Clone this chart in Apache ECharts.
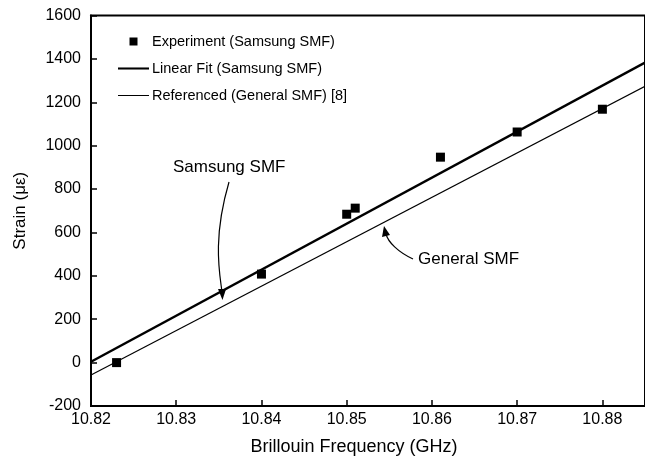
<!DOCTYPE html>
<html>
<head>
<meta charset="utf-8">
<script src="https://cdn.jsdelivr.net/npm/echarts@6/dist/echarts.min.js"></script>
<style>
  html, body { margin: 0; padding: 0; background: #fff; }
  #chart { width: 645px; height: 464px; }
</style>
</head>
<body>
<div id="chart"></div>
<script>
  // measured points (Samsung SMF)
  const expFreq = [10.823, 10.84, 10.85, 10.851, 10.861, 10.87, 10.88]
  const expStrain = [0, 408, 684, 712, 947, 1063, 1168]
  // fitted line end points
  const fitFreq = [10.82, 10.885]
  const fitStrain = [4, 1383]
  // referenced general SMF line end points
  const refFreq = [10.82, 10.885]
  const refStrain = [-57, 1274]
  const yTicks = [-200, 0, 200, 400, 600, 800, 1000, 1200, 1400, 1600]

  const font = 'Arial, "Liberation Sans", Helvetica, sans-serif'
  const zip = (a, b) => a.map((v, i) => [v, b[i]])

  const chart = echarts.init(document.getElementById('chart'))
  const option = {
    backgroundColor: '#fff',
    animation: false,
    grid: {
      left: 91,
      top: 15.5,
      width: 556,
      height: 390.5,
      show: true,
      borderColor: '#000',
      borderWidth: 2,
      backgroundColor: 'transparent'
    },
    legend: {
      orient: 'vertical',
      left: 118,
      top: 34,
      padding: 0,
      itemWidth: 31,
      itemHeight: 8,
      itemGap: 12,
      textStyle: { color: '#000', fontSize: 14.5, fontFamily: font, padding: [0, 0, 0, -2] },
      data: [
        { name: 'Experiment (Samsung SMF)', icon: 'path://M0,0L10,0L10,10L0,10Z' },
        { name: 'Linear Fit (Samsung SMF)', icon: 'path://M0,0L60,0L60,4L0,4Z' },
        { name: 'Referenced (General SMF) [8]', icon: 'path://M0,0L62,0L62,2L0,2Z' }
      ]
    },
    xAxis: {
      type: 'value',
      min: 10.82,
      max: 10.885,
      interval: 0.01,
      name: 'Brillouin Frequency (GHz)',
      nameLocation: 'middle',
      nameGap: 32,
      nameTextStyle: { color: '#000', fontSize: 18, fontFamily: font, padding: [0, 28, 0, 0] },
      axisLine: { show: true, onZero: false, lineStyle: { color: '#000', width: 2 } },
      axisTick: { show: true, inside: true, length: 6, lineStyle: { color: '#000', width: 1.5 } },
      axisLabel: {
        color: '#000', fontSize: 16, fontFamily: font, margin: 6,
        formatter: v => v.toFixed(2),
        showMaxLabel: false
      },
      splitLine: { show: false }
    },
    yAxis: {
      type: 'value',
      min: -200,
      max: 1600,
      interval: 200,
      name: 'Strain (με)',
      nameLocation: 'middle',
      nameGap: 62,
      nameTextStyle: { color: '#000', fontSize: 17, fontFamily: font },
      axisLine: { show: true, onZero: false, lineStyle: { color: '#000', width: 2 } },
      axisTick: { show: true, inside: true, length: 6, lineStyle: { color: '#000', width: 1.5 } },
      axisLabel: {
        color: '#000', fontSize: 16, fontFamily: font, margin: 10,
        formatter: v => (yTicks.indexOf(v) >= 0 ? String(v) : '')
      },
      splitLine: { show: false }
    },
    series: [
      {
        name: 'Experiment (Samsung SMF)',
        type: 'scatter',
        symbol: 'rect',
        symbolSize: 9,
        itemStyle: { color: '#000', opacity: 1 },
        data: zip(expFreq, expStrain),
        z: 5
      },
      {
        name: 'Linear Fit (Samsung SMF)',
        type: 'line',
        symbol: 'none',
        lineStyle: { color: '#000', width: 2.5 },
        itemStyle: { color: '#000' },
        data: zip(fitFreq, fitStrain)
      },
      {
        name: 'Referenced (General SMF) [8]',
        type: 'line',
        symbol: 'none',
        lineStyle: { color: '#000', width: 1.2 },
        itemStyle: { color: '#000' },
        data: zip(refFreq, refStrain)
      }
    ],
    graphic: [
      {
        type: 'text', left: 173, top: 159,
        style: { text: 'Samsung SMF', fill: '#000', fontSize: 17, fontFamily: font }
      },
      {
        type: 'bezierCurve',
        shape: { x1: 229, y1: 182, cpx1: 212, cpy1: 240, cpx2: 220, cpy2: 275, x2: 222, y2: 292 },
        style: { stroke: '#000', lineWidth: 1.2, fill: null }
      },
      {
        type: 'polygon',
        shape: { points: [[218, 289], [226, 289], [222.5, 300]] },
        style: { fill: '#000' }
      },
      {
        type: 'text', left: 418, top: 251,
        style: { text: 'General SMF', fill: '#000', fontSize: 17, fontFamily: font }
      },
      {
        type: 'bezierCurve',
        shape: { x1: 413, y1: 259, cpx1: 398, cpy1: 252, cpx2: 388, cpy2: 242, x2: 386, y2: 234 },
        style: { stroke: '#000', lineWidth: 1.2, fill: null }
      },
      {
        type: 'polygon',
        shape: { points: [[382, 237], [390, 235], [384, 226]] },
        style: { fill: '#000' }
      }
    ]
  }
  chart.setOption(option)
</script>
</body>
</html>
